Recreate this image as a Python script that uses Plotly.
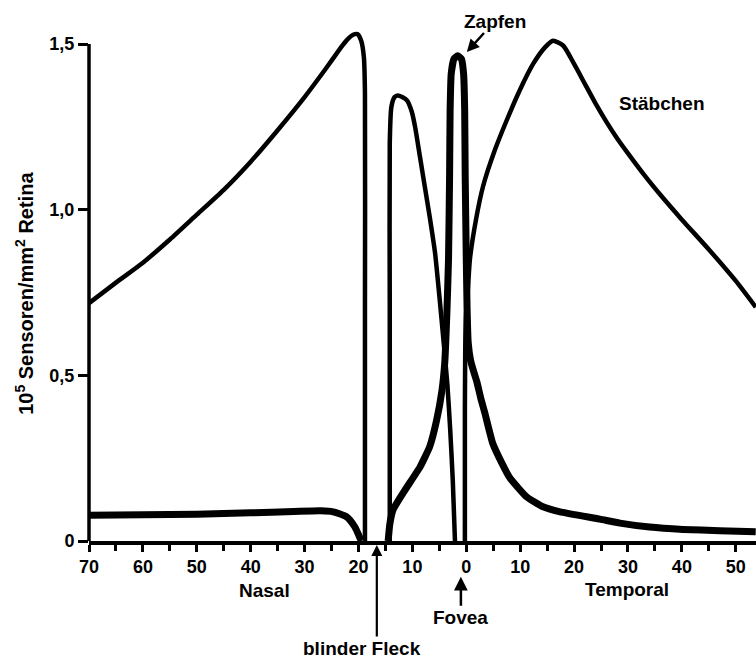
import plotly.graph_objects as go

# ---- data (eccentricity in degrees; nasal negative, temporal positive) ----
rods_nasal_x = [-70, -65, -60, -55, -50, -45, -40, -35, -30, -27, -25, -23, -22, -21, -20.2, -19.5, -19.0, -18.8, -18.8, -18.8]
rods_nasal_y = [0.718, 0.78, 0.84, 0.91, 0.985, 1.06, 1.145, 1.24, 1.34, 1.405, 1.45, 1.495, 1.515, 1.528, 1.53, 1.51, 1.46, 1.35, 0.7, 0]

rods_fovea_nasal_x = [-14.2, -14.2, -14.2, -13.9, -13.3, -12.7, -11.9, -11.0, -10.1, -9.5, -8.6, -7.7, -6.8, -5.8, -5.0, -4.2, -3.5, -3.0, -2.5, -2.1]
rods_fovea_nasal_y = [0, 0.7, 1.2, 1.31, 1.34, 1.345, 1.34, 1.33, 1.295, 1.25, 1.16, 1.07, 0.98, 0.87, 0.74, 0.6, 0.47, 0.34, 0.18, 0]

rods_temporal_x = [-0.26, -0.26, -0.1, 0.3, 0.67, 1.8, 3.1, 5.3, 7.5, 9.9, 12.4, 14.6, 16.1, 18.0, 20.0, 22.0, 24.0, 26.0, 28.0, 30.0, 33.0, 36.0, 40.0, 45.0, 50.0, 53.7]
rods_temporal_y = [0, 0.4, 0.67, 0.76, 0.85, 0.97, 1.07, 1.18, 1.27, 1.36, 1.44, 1.49, 1.51, 1.495, 1.44, 1.38, 1.32, 1.265, 1.215, 1.17, 1.105, 1.045, 0.97, 0.88, 0.785, 0.706]

cones_nasal_x = [-70, -60, -50, -40, -32, -27, -24.7, -22.2, -20.7, -19.8, -19.5]
cones_nasal_y = [0.078, 0.079, 0.081, 0.085, 0.089, 0.091, 0.088, 0.073, 0.043, 0.012, 0]

cones_central_x = [-14.5, -14.2, -13.6, -12.3, -11.0, -8.6, -6.8, -5.5, -4.5, -4.0, -3.6, -3.3, -3.1, -3.0, -2.8, -2.3, -1.6,
                   -0.9, -0.5, -0.3, -0.2, 0.0, 0.15, 0.35, 0.8, 1.4, 1.97, 2.7, 3.45, 4.9, 6.6, 8.1, 11.2, 14.0, 17.4, 24.8, 28.5, 34.0, 40.2, 47.0, 53.7]
cones_central_y = [0, 0.05, 0.094, 0.13, 0.163, 0.223, 0.284, 0.365, 0.456, 0.537, 0.69, 0.85, 1.1, 1.3, 1.41, 1.455, 1.465,
                   1.455, 1.41, 1.3, 1.1, 0.85, 0.7, 0.6, 0.545, 0.51, 0.48, 0.43, 0.386, 0.295, 0.235, 0.19, 0.133, 0.105, 0.088, 0.066, 0.054, 0.042, 0.035, 0.031, 0.028]

x_tick_vals = [-70, -60, -50, -40, -30, -20, -10, 0, 10, 20, 30, 40, 50]
x_tick_text = ["70", "60", "50", "40", "30", "20", "10", "0", "10", "20", "30", "40", "50"]
y_tick_vals = [0, 0.5, 1.0, 1.5]
y_tick_text = ["0", "0,5", "1,0", "1,5"]

X_RANGE = [-70, 53.75]
Y_RANGE = [0, 1.633]

FONT = "Liberation Sans"
INK = "#000000"

def py(v):
    """data value -> paper fraction of the y axis (for labels below the axis)"""
    return (v - Y_RANGE[0]) / (Y_RANGE[1] - Y_RANGE[0])

fig = go.Figure()

def add_curve(xs, ys, width, smoothing=0.6):
    fig.add_trace(go.Scatter(x=xs, y=ys, mode="lines",
                             line=dict(color=INK, width=width, shape="spline", smoothing=smoothing),
                             hoverinfo="skip", showlegend=False, cliponaxis=False))

add_curve(rods_nasal_x, rods_nasal_y, 4.5)
add_curve(rods_fovea_nasal_x, rods_fovea_nasal_y, 4.5)
add_curve(rods_temporal_x, rods_temporal_y, 4.5)
add_curve(cones_nasal_x, cones_nasal_y, 7)
add_curve(cones_central_x, cones_central_y, 7, 0.4)

# y axis line only up to the top tick
fig.add_shape(type="line", xref="paper", yref="y", x0=0, x1=0, y0=0, y1=max(y_tick_vals),
              line=dict(color=INK, width=3.5))

LABEL_FONT = dict(family=FONT, size=19, color=INK, weight="bold")

# plain labels
for text, x, y, yref in [("Nasal", -37.4, py(-0.148), "paper"),
                         ("Temporal", 29.8, py(-0.145), "paper"),
                         ("blinder Fleck", -19.4, py(-0.323), "paper"),
                         ("Stäbchen", 36.3, 1.322, "y")]:
    fig.add_annotation(x=x, y=y, xref="x", yref=yref, text=text, showarrow=False,
                       xanchor="center", yanchor="middle", font=LABEL_FONT)

# blind-spot pointer (vertical arrow up to the axis)
fig.add_annotation(x=-16.6, y=py(-0.012), xref="x", yref="paper", ax=0, ay=93, text="",
                   showarrow=True, arrowhead=2, arrowsize=1.0, arrowwidth=2.2, arrowcolor=INK)

# labels with arrows (arrow head at x,y; text offset by ax/ay pixels)
fig.add_annotation(x=-1.0, y=py(-0.108), xref="x", yref="paper", ax=0, ay=41, text="Fovea",
                   showarrow=True, arrowhead=2, arrowsize=1.1, arrowwidth=2.5, arrowcolor=INK,
                   font=LABEL_FONT)
fig.add_annotation(x=0.1, y=1.476, xref="x", yref="y", ax=28, ay=-31, text="Zapfen",
                   showarrow=True, arrowhead=2, arrowsize=1.0, arrowwidth=2.5, arrowcolor=INK,
                   font=LABEL_FONT)

# y-axis title
fig.add_annotation(x=-0.096, y=py(0.749), xref="paper", yref="paper",
                   text="10<sup>5</sup> Sensoren/mm<sup>2</sup> Retina",
                   textangle=-90, showarrow=False, xanchor="center", yanchor="middle",
                   font=dict(family=FONT, size=20, color=INK, weight="bold"))

fig.update_layout(
    width=756, height=659,
    margin=dict(l=89, r=0, t=0, b=118),
    paper_bgcolor="white", plot_bgcolor="white",
    font=dict(family=FONT, color=INK),
    xaxis=dict(range=X_RANGE, tickmode="array", tickvals=x_tick_vals, ticktext=x_tick_text,
               showline=True, linecolor=INK, linewidth=3.5, ticks="outside", ticklen=7, tickwidth=2.5,
               tickcolor=INK, showgrid=False, zeroline=False,
               tickfont=dict(family=FONT, size=18, color=INK, weight="bold"),
               minor=dict(tickmode="linear", tick0=0, dtick=5, ticks="outside", ticklen=6, tickwidth=2.5, tickcolor=INK)),
    yaxis=dict(range=Y_RANGE, tickmode="array", tickvals=y_tick_vals, ticktext=y_tick_text,
               showline=False, ticks="outside", ticklen=10, tickwidth=2.5, tickcolor=INK,
               showgrid=False, zeroline=False,
               tickfont=dict(family=FONT, size=18, color=INK, weight="bold")),
)

fig.write_html("out.html")
